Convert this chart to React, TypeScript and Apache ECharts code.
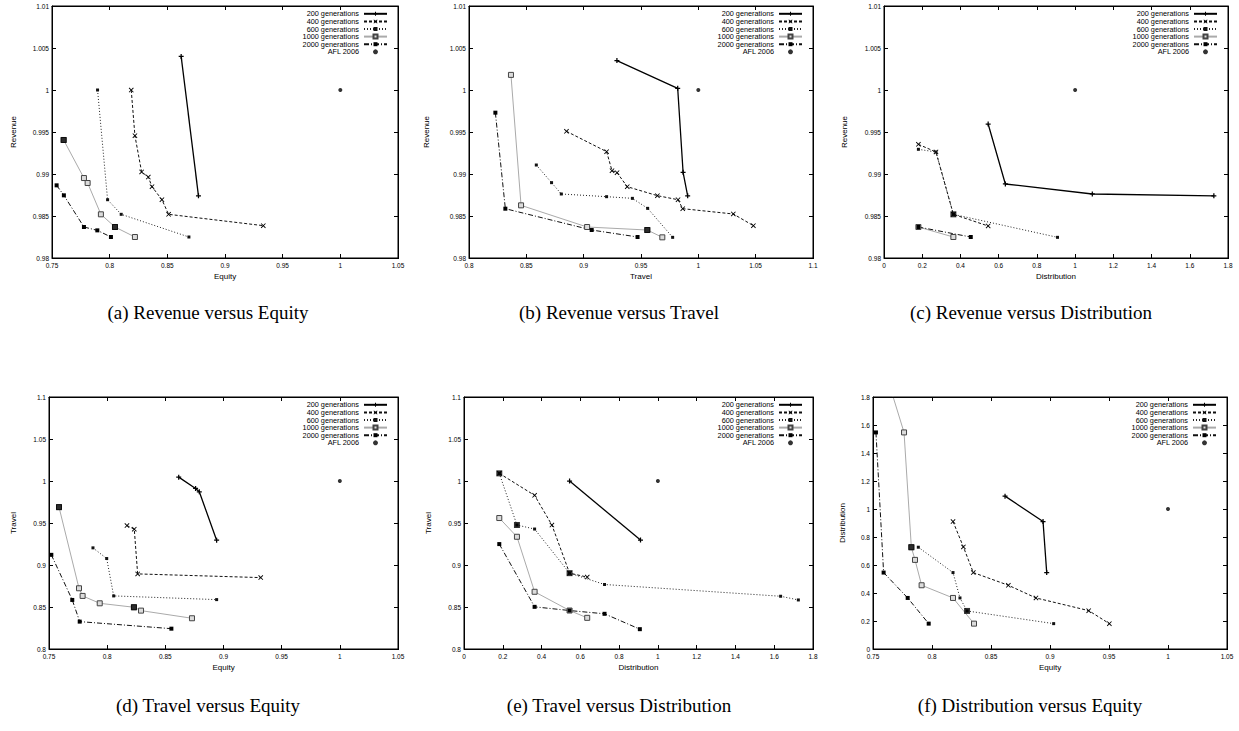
import React, { useEffect, useRef } from "react";
import * as echarts from "echarts";

// ---------- data ----------
// (a) Revenue versus Equity : [equity, revenue]
const revEq200 = [[0.862, 1.004], [0.877, 0.9874]];
const revEq400 = [[0.8187, 1.0], [0.8219, 0.99456], [0.8277, 0.99024], [0.8335, 0.98964], [0.8367, 0.98849], [0.8453, 0.98694], [0.8511, 0.9852], [0.9332, 0.98385]];
const revEq600 = [[0.7895, 1.0], [0.7982, 0.98694], [0.81, 0.9852], [0.8687, 0.9825]];
const revEq1000 = [[0.7601, 0.99405], [0.7777, 0.98952], [0.7809, 0.98893], [0.7924, 0.9852], [0.8046, 0.98369], [0.8219, 0.9825]];
const revEq2000 = [[0.754, 0.98865], [0.7603, 0.98746], [0.7777, 0.98369], [0.7893, 0.98329], [0.8011, 0.9825]];
const revEq2000Pts = [[0.7601, 0.99405], [0.8046, 0.98369]];
const revEqAfl = [[1, 1]];

// (b) Revenue versus Travel : [travel, revenue]
const revTr200 = [[0.929, 1.0035], [0.982, 1.0002], [0.9867, 0.9902], [0.9907, 0.9874]];
const revTr400 = [[0.885, 0.99508], [0.92, 0.99266], [0.9247, 0.9904], [0.9291, 0.99016], [0.938, 0.98849], [0.9643, 0.98742], [0.9823, 0.98694], [0.9864, 0.98587], [1.0305, 0.98524], [1.048, 0.98385]];
const revTr600 = [[0.8587, 0.99107], [0.872, 0.98897], [0.8805, 0.98762], [0.92, 0.9873], [0.9425, 0.9871], [0.9558, 0.98591], [0.9776, 0.98246]];
const revTr1000 = [[0.8366, 1.0018], [0.8454, 0.98627], [0.903, 0.98369], [0.9555, 0.98333], [0.9686, 0.98246]];
const revTr2000 = [[0.823, 0.9973], [0.8317, 0.98587], [0.907, 0.98333], [0.947, 0.9825]];
const revTr2000Pts = [[0.9555, 0.98333]];
const revTrAfl = [[1, 1]];

// (c) Revenue versus Distribution : [distribution, revenue]
const revDi200 = [[0.545, 0.99595], [0.635, 0.98881], [1.09, 0.98762], [1.726, 0.9874]];
const revDi400 = [[0.18, 0.99353], [0.272, 0.99262], [0.363, 0.9852], [0.545, 0.98381]];
const revDi600 = [[0.18, 0.99294], [0.272, 0.99262], [0.363, 0.9852], [0.908, 0.98246]];
const revDi1000 = [[0.18, 0.98369], [0.363, 0.9825]];
const revDi2000 = [[0.18, 0.98369], [0.454, 0.9825]];
const revDi2000Pts = [[0.363, 0.9852]];
const revDiAfl = [[1, 1]];

// (d) Travel versus Equity : [equity, travel]
const trEq200 = [[0.8615, 1.0046], [0.876, 0.9911], [0.8792, 0.9872], [0.8941, 0.9295]];
const trEq400 = [[0.817, 0.947], [0.8233, 0.9426], [0.8262, 0.8894], [0.932, 0.885]];
const trEq600 = [[0.7878, 0.9204], [0.7996, 0.9077], [0.8056, 0.8632], [0.8941, 0.8588]];
const trEq1000 = [[0.7586, 0.9689], [0.7758, 0.8723], [0.7789, 0.8632], [0.7936, 0.8544], [0.823, 0.8497], [0.8291, 0.8457], [0.8729, 0.8366]];
const trEq2000 = [[0.752, 0.9121], [0.77, 0.8584], [0.7764, 0.8326], [0.8552, 0.8242]];
const trEq2000Pts = [[0.7586, 0.9689], [0.823, 0.8497]];
const trEqAfl = [[1, 1]];

// (e) Travel versus Distribution : [distribution, travel]
const trDi200 = [[0.5445, 1.0], [0.9103, 0.9297]];
const trDi400 = [[0.182, 1.0091], [0.3641, 0.9829], [0.4534, 0.9476], [0.5445, 0.8903], [0.6355, 0.8856]];
const trDi600 = [[0.182, 1.0091], [0.2731, 0.9476], [0.3641, 0.9428], [0.5445, 0.8903], [0.7248, 0.8768], [1.633, 0.8628], [1.7244, 0.8584]];
const trDi1000 = [[0.182, 0.9559], [0.2731, 0.9336], [0.3641, 0.8681], [0.5445, 0.8458], [0.6355, 0.8371]];
const trDi2000 = [[0.182, 0.9249], [0.3641, 0.8502], [0.5445, 0.8458], [0.7248, 0.8419], [0.9069, 0.8236]];
const trDi2000Pts = [[0.182, 1.0091], [0.2731, 0.9476], [0.5445, 0.8903]];
const trDiAfl = [[1, 1]];

// (f) Distribution versus Equity : [equity, distribution]
const diEq200 = [[0.8619, 1.0918], [0.8941, 0.9106], [0.8972, 0.5459]];
const diEq400 = [[0.8178, 0.9106], [0.8266, 0.7294], [0.835, 0.5459], [0.8647, 0.4553], [0.8881, 0.3647], [0.9328, 0.2741], [0.9503, 0.1812]];
const diEq600 = [[0.7884, 0.727], [0.8178, 0.5459], [0.8237, 0.3647], [0.8297, 0.2718], [0.9031, 0.1812]];
const diEq1000 = [[0.7631, 1.909], [0.7763, 1.547], [0.7825, 0.727], [0.7856, 0.6365], [0.7912, 0.4553], [0.8178, 0.3647], [0.8356, 0.1812]];
const diEq2000 = [[0.7525, 1.547], [0.759, 0.5459], [0.7794, 0.3647], [0.7972, 0.1812]];
const diEq2000Pts = [[0.7825, 0.727], [0.8297, 0.2718]];
const diEqAfl = [[1, 1]];

const seriesNames = ["200 generations", "400 generations", "600 generations", "1000 generations", "2000 generations", "AFL 2006"];
const captions = [
  "(a) Revenue versus Equity",
  "(b) Revenue versus Travel",
  "(c) Revenue versus Distribution",
  "(d) Travel versus Equity",
  "(e) Travel versus Distribution",
  "(f) Distribution versus Equity",
];

// ---------- layout / styles ----------
const W = 1239;
const H = 731;
const SANS = "'Liberation Sans', Arial, Helvetica, sans-serif";
const SERIF = "'Liberation Serif', 'Times New Roman', serif";

const plots = [
  { grid: { left: 52, top: 6, width: 346, height: 252 }, x: [0.75, 1.05, 0.05], y: [0.98, 1.01, 0.005], xName: "Equity", yName: "Revenue", yGap: 35,
    data: [revEq200, revEq400, revEq600, revEq1000, revEq2000, revEq2000Pts, revEqAfl], cap: [208, 312] },
  { grid: { left: 469, top: 6, width: 344, height: 252 }, x: [0.8, 1.1, 0.05], y: [0.98, 1.01, 0.005], xName: "Travel", yName: "Revenue", yGap: 39,
    data: [revTr200, revTr400, revTr600, revTr1000, revTr2000, revTr2000Pts, revTrAfl], cap: [619, 312] },
  { grid: { left: 884, top: 6, width: 344, height: 252 }, x: [0, 1.8, 0.2], y: [0.98, 1.01, 0.005], xName: "Distribution", yName: "Revenue", yGap: 36,
    data: [revDi200, revDi400, revDi600, revDi1000, revDi2000, revDi2000Pts, revDiAfl], cap: [1031, 312] },
  { grid: { left: 49, top: 397, width: 349, height: 252 }, x: [0.75, 1.05, 0.05], y: [0.8, 1.1, 0.05], xName: "Equity", yName: "Travel", yGap: 32,
    data: [trEq200, trEq400, trEq600, trEq1000, trEq2000, trEq2000Pts, trEqAfl], cap: [208, 705] },
  { grid: { left: 464, top: 397, width: 349, height: 252 }, x: [0, 1.8, 0.2], y: [0.8, 1.1, 0.05], xName: "Distribution", yName: "Travel", yGap: 32,
    data: [trDi200, trDi400, trDi600, trDi1000, trDi2000, trDi2000Pts, trDiAfl], cap: [619, 705] },
  { grid: { left: 873, top: 397, width: 354, height: 252 }, x: [0.75, 1.05, 0.05], y: [0, 1.8, 0.2], xName: "Equity", yName: "Distribution", yGap: 27,
    data: [diEq200, diEq400, diEq600, diEq1000, diEq2000, diEq2000Pts, diEqAfl], cap: [1030, 705] },
];

const PLUS = "path://M3,0L5,0L5,8L3,8ZM0,3L8,3L8,5L0,5Z";
const CROSS = "path://M0,1L1,0L8,7L7,8ZM7,0L8,1L1,8L0,7Z";

const lineStyles: any[] = [
  { symbol: PLUS, size: 5, item: { color: "#000" }, line: { color: "#000", width: 1.3, type: "solid" } },
  { symbol: CROSS, size: 5, item: { color: "#000" }, line: { color: "#111", width: 1, type: [3, 2] } },
  { symbol: "rect", size: 3, item: { color: "#111" }, line: { color: "#222", width: 1, type: [1, 2] } },
  { symbol: "rect", size: 5, item: { color: "#dcdcdc", borderColor: "#444", borderWidth: 1 }, line: { color: "#aaaaaa", width: 1, type: "solid" } },
  { symbol: "rect", size: 4, item: { color: "#000" }, line: { color: "#111", width: 1, type: [5, 2, 1, 2] } },
];

const fmt = (v: number) => String(Math.round(v * 10000) / 10000);

function buildOption(i: number) {
  const p = plots[i];
  const tick = () => ({ show: true, inside: true, length: 4, lineStyle: { color: "#000", width: 1 } });
  const line = () => ({ show: true, onZero: false, lineStyle: { color: "#000", width: 1 } });
  const label = () => ({ show: true, fontSize: 6.5, fontFamily: SANS, color: "#000", formatter: fmt, showMinLabel: true, showMaxLabel: true });

  const series: any[] = [];
  for (let k = 0; k < 5; k++) {
    const st = lineStyles[k];
    series.push({
      type: "line", name: seriesNames[k], xAxisIndex: 0, yAxisIndex: 0,
      data: p.data[k], symbol: st.symbol, symbolSize: st.size, showSymbol: true, showAllSymbol: true,
      itemStyle: { ...st.item }, lineStyle: { ...st.line, type: Array.isArray(st.line.type) ? [...st.line.type] : st.line.type },
      clip: true, silent: true, z: 2,
    });
  }
  // coinciding 2000-generation solutions drawn on top of other markers
  series.push({
    type: "scatter", name: "2000 generations (shared)", xAxisIndex: 0, yAxisIndex: 0,
    data: p.data[5], symbol: "rect", symbolSize: 6, itemStyle: { color: "#000" }, silent: true, z: 3,
  });
  series.push({
    type: "scatter", name: "AFL 2006", xAxisIndex: 0, yAxisIndex: 0,
    data: p.data[6], symbol: "circle", symbolSize: 4, itemStyle: { color: "#000" }, silent: true, z: 3,
  });

  const g = p.grid;
  const gridRight = g.left + g.width;
  const gridBottom = g.top + g.height;
  const frame = [
    { x: g.left, y: g.top, width: 1, height: g.height + 1 },
    { x: gridRight, y: g.top, width: 1, height: g.height + 1 },
    { x: g.left, y: g.top, width: g.width + 1, height: 1 },
    { x: g.left, y: gridBottom, width: g.width + 1, height: 1 },
  ].map((s) => ({ type: "rect", silent: true, z: 50, shape: s, style: { fill: "#000" } }));

  return {
    animation: false,
    grid: [{ ...g, show: true, borderColor: "#000", borderWidth: 1 }],
    xAxis: [
      {
        type: "value", gridIndex: 0, position: "bottom", min: p.x[0], max: p.x[1], interval: p.x[2],
        name: p.xName, nameLocation: "middle", nameGap: 14,
        nameTextStyle: { fontSize: 8, fontFamily: SANS, color: "#000" },
        axisLine: line(), axisTick: tick(), axisLabel: { ...label(), margin: 4 }, splitLine: { show: false },
      },
      {
        type: "value", gridIndex: 0, position: "top", min: p.x[0], max: p.x[1], interval: p.x[2],
        axisLine: line(), axisTick: tick(), axisLabel: { show: false }, splitLine: { show: false },
      },
    ],
    yAxis: [
      {
        type: "value", gridIndex: 0, position: "left", min: p.y[0], max: p.y[1], interval: p.y[2],
        name: p.yName, nameLocation: "middle", nameGap: p.yGap, nameRotate: 90,
        nameTextStyle: { fontSize: 8, fontFamily: SANS, color: "#000" },
        axisLine: line(), axisTick: tick(), axisLabel: { ...label(), margin: 3 }, splitLine: { show: false },
      },
      {
        type: "value", gridIndex: 0, position: "right", min: p.y[0], max: p.y[1], interval: p.y[2],
        axisLine: line(), axisTick: tick(), axisLabel: { show: false }, splitLine: { show: false },
      },
    ],
    legend: [{
      data: seriesNames.map((n) => ({ name: n })),
      orient: "vertical", align: "right", selectedMode: false,
      right: Math.round(W - (gridRight - 9.5)), top: g.top + 4,
      padding: 0, itemWidth: 23, itemHeight: 5, itemGap: 0,
      textStyle: { fontSize: 7.3, fontFamily: SANS, color: "#000", lineHeight: 7.6 },
    }],
    series,
    graphic: [
      ...frame,
      {
        type: "text", x: p.cap[0], y: p.cap[1], silent: true,
        style: { text: captions[i], fontSize: 19, fontFamily: SERIF, fill: "#000", align: "center", verticalAlign: "middle" },
      },
    ],
  };
}

function Panel({ idx }: { idx: number }) {
  const ref = useRef<HTMLDivElement>(null);
  useEffect(() => {
    if (!ref.current) return;
    const chart = echarts.init(ref.current, null, { renderer: "svg" });
    chart.setOption(buildOption(idx) as any);
    return () => chart.dispose();
  }, [idx]);
  return <div ref={ref} style={{ position: "absolute", left: 0, top: 0, width: W, height: H }} />;
}

export default function App() {
  return (
    <div style={{ position: "absolute", left: 0, top: 0, width: W, height: H, background: "#fff" }}>
      {plots.map((_, i) => (
        <Panel key={i} idx={i} />
      ))}
    </div>
  );
}
